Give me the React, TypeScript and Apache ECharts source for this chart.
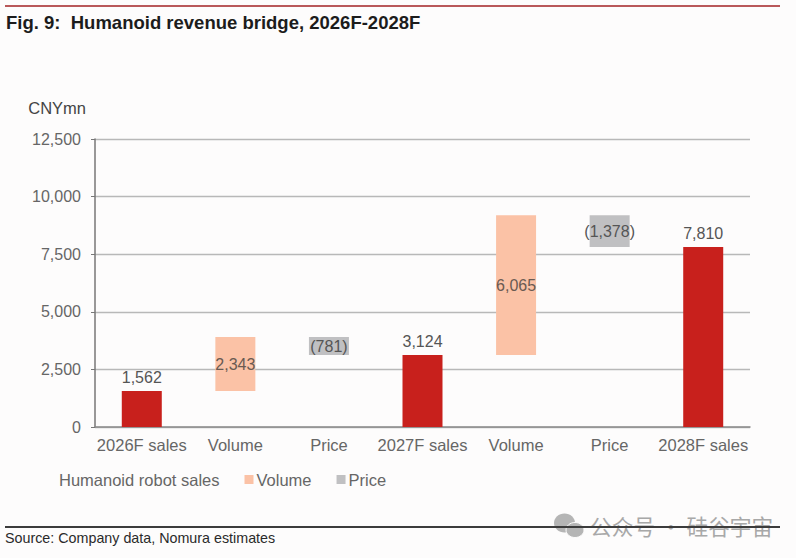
import React, { useEffect, useRef } from "react";
import * as echarts from "echarts";

const categories = ["2026F sales", "Volume", "Price", "2027F sales", "Volume", "Price", "2028F sales"];
const baseValues = [null, 1562, 3124, null, 3124, 7811, null];
const salesValues = [1562, null, null, 3124, null, null, 7810];
const volumeValues = [null, 2343, null, null, 6065, null, null];
const priceValues = [null, null, 781, null, null, 1378, null];
const yTicks = { min: 0, max: 12500, interval: 2500 };

const FONT = "Liberation Sans, Arial, sans-serif";
const fmt = (n: number) => n.toLocaleString("en-US");

export default function App() {
  const ref = useRef<HTMLDivElement>(null);
  useEffect(() => {
    const chart = echarts.init(ref.current!, null, { renderer: "svg" });
    const barCommon = { type: "bar" as const, stack: "bridge", barWidth: 40 };
    chart.setOption({
      animation: false,
      backgroundColor: "#fdfcfc",
      textStyle: { fontFamily: FONT },
      grid: { left: 95, right: 46, top: 139, bottom: 131, containLabel: false },
      legend: {
        left: 42,
        top: 466,
        itemWidth: 9,
        itemHeight: 9,
        itemGap: 25,
        icon: "rect",
        selectedMode: false,
        data: ["Humanoid robot sales", "Volume", "Price"],
        textStyle: { color: "#666", fontSize: 16.5, fontFamily: FONT, padding: [0, 0, 0, -2] },
      },
      xAxis: {
        type: "category",
        data: categories,
        axisLine: { lineStyle: { color: "#8a8a8a", width: 1.5 } },
        axisTick: { show: false },
        axisLabel: { color: "#666", fontSize: 16.5, fontFamily: FONT, margin: 9, interval: 0 },
      },
      yAxis: {
        type: "value",
        min: yTicks.min,
        max: yTicks.max,
        interval: yTicks.interval,
        name: "CNYmn",
        nameLocation: "end",
        nameGap: 23,
        nameTextStyle: { color: "#444", fontSize: 16.5, fontFamily: FONT, align: "right", padding: [0, 9, 0, 0] },
        axisLine: { show: true, lineStyle: { color: "#777", width: 1.5 } },
        axisTick: { show: true, length: 4, lineStyle: { color: "#777" } },
        axisLabel: {
          color: "#666",
          fontSize: 16,
          fontFamily: FONT,
          margin: 14,
          formatter: (v: number) => fmt(v),
        },
        splitLine: { lineStyle: { color: "#b8b8b8", width: 1.3 } },
      },
      series: [
        {
          ...barCommon,
          name: "Humanoid robot sales",
          data: baseValues,
          itemStyle: { color: "transparent" },
        },
        {
          ...barCommon,
          name: "Sales",
          data: salesValues,
          itemStyle: { color: "#c8201c" },
          label: {
            show: true,
            position: "top",
            distance: 6,
            color: "#555",
            fontSize: 16,
            fontFamily: FONT,
            formatter: (p: any) => fmt(p.value),
          },
        },
        {
          ...barCommon,
          name: "Volume",
          data: volumeValues,
          itemStyle: { color: "#fbc2a6" },
          label: {
            show: true,
            position: "inside",
            color: "#6a5a52",
            fontSize: 16,
            fontFamily: FONT,
            formatter: (p: any) => fmt(p.value),
          },
        },
        {
          ...barCommon,
          name: "Price",
          data: priceValues,
          itemStyle: { color: "#c0c0c2" },
          label: {
            show: true,
            position: "inside",
            color: "#555",
            fontSize: 16,
            fontFamily: FONT,
            formatter: (p: any) => `(${fmt(p.value)})`,
          },
        },
      ],
      graphic: [
        { type: "rect", shape: { x: 5, y: 5, width: 775, height: 2 }, style: { fill: "#b9585a" } },
        {
          type: "text",
          x: 6,
          y: 13,
          style: { text: "Fig. 9:  Humanoid revenue bridge, 2026F-2028F", fill: "#1c1c1c", font: `bold 18.5px ${FONT}` },
        },
        { type: "ellipse", shape: { cx: 564.5, cy: 523, rx: 10.5, ry: 9.5 }, style: { fill: "#b5b5b5" } },
        { type: "ellipse", shape: { cx: 575, cy: 530, rx: 9, ry: 7.5 }, style: { fill: "#b5b5b5", stroke: "#fdfcfc", lineWidth: 1 } },
        {
          type: "text",
          x: 590,
          y: 515,
          style: { text: "公众号 · 硅谷宇宙", fill: "#a8a8a8", font: `21.7px "Noto Sans CJK SC", sans-serif` },
        },
        { type: "rect", shape: { x: 5, y: 526, width: 775, height: 2 }, style: { fill: "#3c3c3c" } },
        {
          type: "text",
          x: 5,
          y: 531,
          style: { text: "Source: Company data, Nomura estimates", fill: "#2a2a2a", font: `14.3px ${FONT}` },
        },
      ],
    });
    return () => chart.dispose();
  }, []);
  return <div ref={ref} style={{ position: "fixed", left: 0, top: 0, width: 796, height: 558 }} />;
}
